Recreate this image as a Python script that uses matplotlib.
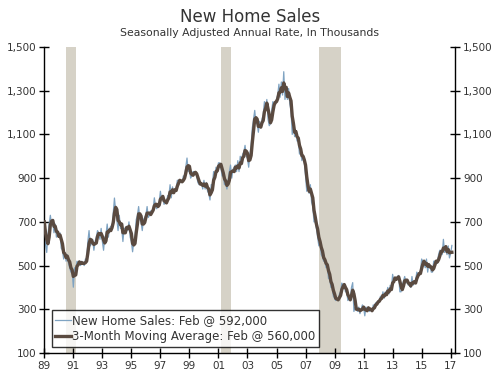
import numpy as np
import pandas as pd
import matplotlib
matplotlib.use("Agg")
import matplotlib.pyplot as plt

# monthly new home sales, SAAR, thousands
sales = {
    1989: [700, 600, 560, 640, 690, 730, 690, 700, 650, 690, 630, 640],
    1990: [630, 650, 580, 570, 530, 560, 520, 550, 510, 490, 470, 480],
    1991: [401, 490, 480, 520, 510, 520, 500, 520, 510, 500, 530, 530],
    1992: [610, 660, 590, 600, 620, 570, 610, 630, 660, 650, 620, 670],
    1993: [610, 570, 630, 640, 690, 630, 670, 680, 670, 740, 809, 750],
    1994: [710, 660, 730, 670, 670, 610, 670, 670, 680, 660, 700, 630],
    1995: [610, 563, 610, 630, 710, 730, 770, 710, 700, 660, 710, 720],
    1996: [730, 770, 720, 730, 750, 750, 760, 810, 770, 760, 780, 790],
    1997: [840, 800, 810, 780, 790, 790, 820, 820, 870, 810, 860, 830],
    1998: [850, 850, 890, 890, 890, 880, 880, 910, 910, 950, 992, 930],
    1999: [940, 900, 910, 930, 930, 920, 910, 880, 870, 870, 880, 850],
    2000: [890, 850, 880, 840, 830, 800, 870, 870, 930, 910, 950, 940],
    2001: [970, 970, 950, 910, 910, 870, 880, 850, 890, 930, 960, 900],
    2002: [940, 950, 960, 930, 980, 930, 1000, 970, 1010, 1020, 1050, 1000],
    2003: [990, 950, 1010, 1050, 1130, 1170, 1210, 1150, 1150, 1110, 1160, 1130],
    2004: [1170, 1190, 1250, 1220, 1260, 1170, 1140, 1150, 1210, 1250, 1240, 1250],
    2005: [1260, 1280, 1330, 1270, 1340, 1280, 1387, 1260, 1300, 1260, 1310, 1240],
    2006: [1210, 1100, 1140, 1090, 1110, 1070, 1070, 1010, 1020, 980, 1000, 970],
    2007: [910, 840, 850, 830, 870, 790, 770, 700, 700, 670, 630, 590],
    2008: [610, 550, 540, 520, 520, 490, 500, 440, 440, 400, 400, 360],
    2009: [350, 340, 350, 340, 370, 380, 420, 410, 410, 380, 380, 340],
    2010: [350, 340, 400, 422, 290, 310, 300, 290, 310, 280, 300, 320],
    2011: [310, 270, 310, 300, 310, 290, 300, 290, 320, 310, 330, 330],
    2012: [340, 340, 360, 350, 380, 350, 380, 370, 400, 370, 410, 390],
    2013: [460, 430, 440, 440, 450, 455, 380, 380, 410, 430, 450, 420],
    2014: [430, 410, 410, 400, 450, 410, 420, 430, 470, 460, 460, 470],
    2015: [530, 520, 510, 490, 530, 470, 510, 500, 470, 470, 520, 520],
    2016: [520, 510, 550, 570, 570, 550, 620, 560, 580, 550, 590, 535],
    2017: [555, 592],
}

recessions = [(1990.5, 1991.2), (2001.17, 2001.88), (2007.9, 2009.45)]
yticks = [100, 300, 500, 700, 900, 1100, 1300, 1500]
xticks = list(range(1989, 2018, 2))
xlabels = ["%02d" % (y % 100) for y in xticks]

x = []
v = []
for yr, vals in sales.items():
    for m, val in enumerate(vals):
        x.append(yr + m / 12)
        v.append(val)
x = np.array(x)
ma = pd.Series(v).rolling(3, min_periods=1).mean().values

fig = plt.figure(figsize=(5, 3.76), dpi=100)
ax = fig.add_axes([0.0886, 0.0612, 0.822, 0.8138])

for a, b in recessions:
    ax.axvspan(a, b, color="#d6d2c7", lw=0, zorder=0)

ax.plot(x, v, color="#7fa3c2", lw=0.9, label="New Home Sales: Feb @ 592,000", zorder=2)
ax.plot(x, ma, color="#5a4a40", lw=2.4, label="3-Month Moving Average: Feb @ 560,000", zorder=3)

ax.set_xlim(1989, 2017.32)
ax.set_ylim(100, 1500)
ax.set_yticks(yticks)
ax.set_yticklabels(["{:,}".format(t) for t in yticks])
ax.set_xticks(xticks)
ax.set_xticklabels(xlabels)
ax.spines["top"].set_visible(False)
for s in ["left", "right", "bottom"]:
    ax.spines[s].set_linewidth(1.0)
ax.tick_params(axis="both", direction="inout", length=7, width=1, labelsize=7.5,
               labelcolor="#333333", pad=2)
ax.tick_params(axis="y", right=True, labelright=True)

leg = ax.legend(loc="lower left", bbox_to_anchor=(0.018, 0.02), fontsize=8.5,
                frameon=True, fancybox=False, edgecolor="black", handlelength=1.3,
                handletextpad=0.1, borderpad=0.3, labelspacing=0.3, borderaxespad=0)
leg.get_frame().set_linewidth(1.0)
for t in leg.get_texts():
    t.set_color("#333333")

fig.text(0.5, 0.955, "New Home Sales", ha="center", va="center", fontsize=12, color="#333333")
fig.text(0.5, 0.912, "Seasonally Adjusted Annual Rate, In Thousands", ha="center", va="center",
         fontsize=7.8, color="#333333")

fig.savefig("out.png", dpi=100)
